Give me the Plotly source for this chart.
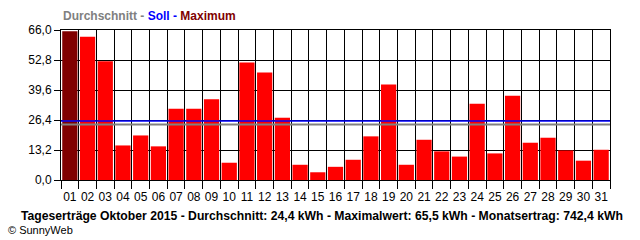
import plotly.graph_objects as go

days = [f"{d:02d}" for d in range(1, 32)]
values = [65.5, 63.0, 52.2, 15.2, 19.6, 14.8, 31.4, 31.4, 35.5, 7.6,
          51.7, 47.3, 27.4, 6.7, 3.4, 5.8, 8.9, 19.2, 42.0, 6.7,
          17.7, 12.6, 10.3, 33.6, 11.7, 37.1, 16.4, 18.6, 13.0, 8.5, 13.3]
soll = 26.0
durchschnitt = 24.4
y_ticks = [0.0, 13.2, 26.4, 39.6, 52.8, 66.0]

max_val = max(values)
colors = ["#800000" if v == max_val else "#ff0000" for v in values]
xpos = list(range(1, 32))

fig = go.Figure()
fig.add_trace(go.Bar(x=xpos, y=values, marker=dict(color=colors, line=dict(width=0)),
                     width=0.86, hoverinfo="skip"))
fig.add_trace(go.Scatter(x=[0.5, 31.5], y=[durchschnitt, durchschnitt], mode="lines",
                         line=dict(color="#808080", width=2), hoverinfo="skip"))
fig.add_trace(go.Scatter(x=[0.5, 31.5], y=[soll, soll], mode="lines",
                         line=dict(color="#0000ff", width=1.5), hoverinfo="skip"))

font = "Liberation Sans, Arial, sans-serif"
fig.update_layout(
    width=640, height=240, margin=dict(l=61, r=30, t=30, b=60),
    paper_bgcolor="white", plot_bgcolor="white", showlegend=False,
    separators=",.",
    font=dict(family=font, size=12, color="black"),
    xaxis=dict(range=[0.5, 31.5], tickvals=xpos, ticktext=days, showgrid=False,
               ticks="", showline=True, linecolor="black", linewidth=1, mirror=True,
               tickfont=dict(size=12), ticklabelstandoff=6,
               minor=dict(tickvals=[i + 0.5 for i in range(0, 32)], showgrid=True,
                          gridcolor="black", gridwidth=1, ticks="outside",
                          ticklen=8, tickcolor="black", tickwidth=1),
               zeroline=False, fixedrange=True),
    yaxis=dict(range=[0, 66], tickvals=y_ticks, tickformat=".1f", showgrid=True,
               gridcolor="black", gridwidth=1, ticks="outside", ticklen=6,
               tickcolor="black", showline=True, linecolor="black", linewidth=1,
               mirror=True, zeroline=False, tickfont=dict(size=12), fixedrange=True),
    bargap=0.15,
)

fig.add_annotation(xref="paper", yref="paper", x=0, y=1, xanchor="left", yanchor="bottom",
                   yshift=5, showarrow=False,
                   text="<b><span style='color:#808080'>Durchschnitt - </span>"
                        "<span style='color:#0000ff'>Soll - </span>"
                        "<span style='color:#800000'>Maximum</span></b>",
                   font=dict(size=12, family=font))
fig.add_annotation(xref="paper", yref="paper", x=0.5, y=0, xanchor="center", yanchor="middle",
                   xshift=-14, yshift=-36, showarrow=False,
                   text="<b>Tageserträge Oktober 2015 - Durchschnitt: 24,4 kWh - Maximalwert: 65,5 kWh - Monatsertrag: 742,4 kWh</b>",
                   font=dict(size=12.2, family=font))
fig.add_annotation(xref="paper", yref="paper", x=0, y=0, xanchor="left", yanchor="middle",
                   xshift=-55, yshift=-50, showarrow=False,
                   text="© SunnyWeb", font=dict(size=11, family=font))

fig.write_html("out.html")
